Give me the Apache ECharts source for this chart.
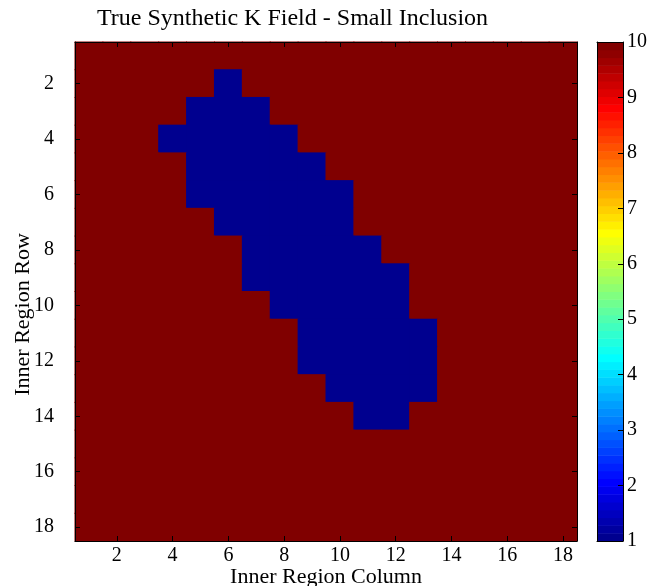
<!DOCTYPE html>
<html>
<head>
<meta charset="utf-8">
<script src="https://cdn.jsdelivr.net/npm/echarts@6/dist/echarts.min.js"></script>
<style>
  html, body { margin: 0; padding: 0; background: #fff; }
  #chart { width: 660px; height: 586px; }
</style>
</head>
<body>
<div id="chart"></div>
<script>
// Grid indices (rows top to bottom, columns left to right)
const rowLabels = ['1','2','3','4','5','6','7','8','9','10','11','12','13','14','15','16','17','18'];
const colLabels = ['1','2','3','4','5','6','7','8','9','10','11','12','13','14','15','16','17','18'];

// Synthetic K field: background 10, low-permeability inclusion 1
const kField = [
  [10,10,10,10,10,10,10,10,10,10,10,10,10,10,10,10,10,10],
  [10,10,10,10,10, 1,10,10,10,10,10,10,10,10,10,10,10,10],
  [10,10,10,10, 1, 1, 1,10,10,10,10,10,10,10,10,10,10,10],
  [10,10,10, 1, 1, 1, 1, 1,10,10,10,10,10,10,10,10,10,10],
  [10,10,10,10, 1, 1, 1, 1, 1,10,10,10,10,10,10,10,10,10],
  [10,10,10,10, 1, 1, 1, 1, 1, 1,10,10,10,10,10,10,10,10],
  [10,10,10,10,10, 1, 1, 1, 1, 1,10,10,10,10,10,10,10,10],
  [10,10,10,10,10,10, 1, 1, 1, 1, 1,10,10,10,10,10,10,10],
  [10,10,10,10,10,10, 1, 1, 1, 1, 1, 1,10,10,10,10,10,10],
  [10,10,10,10,10,10,10, 1, 1, 1, 1, 1,10,10,10,10,10,10],
  [10,10,10,10,10,10,10,10, 1, 1, 1, 1, 1,10,10,10,10,10],
  [10,10,10,10,10,10,10,10, 1, 1, 1, 1, 1,10,10,10,10,10],
  [10,10,10,10,10,10,10,10,10, 1, 1, 1, 1,10,10,10,10,10],
  [10,10,10,10,10,10,10,10,10,10, 1, 1,10,10,10,10,10,10],
  [10,10,10,10,10,10,10,10,10,10,10,10,10,10,10,10,10,10],
  [10,10,10,10,10,10,10,10,10,10,10,10,10,10,10,10,10,10],
  [10,10,10,10,10,10,10,10,10,10,10,10,10,10,10,10,10,10],
  [10,10,10,10,10,10,10,10,10,10,10,10,10,10,10,10,10,10]
];

// Colour scale limits
const kMin = 1;
const kMax = 10;

// 64-step jet colormap
function jetColor(t) {
  const c = v => Math.round(Math.max(0, Math.min(1, v)) * 255);
  return 'rgb(' + c(1.5 - Math.abs(4 * t - 3)) + ',' + c(1.5 - Math.abs(4 * t - 2)) + ',' + c(1.5 - Math.abs(4 * t - 1)) + ')';
}
const nColors = 64;
const jet = [];
for (let i = 1; i <= nColors; i++) jet.push(jetColor(i / nColors));

// Field cells [col, row, value]
const cells = [];
kField.forEach((row, r) => row.forEach((v, c) => cells.push([c, r, v])));

// Colorbar segments [colorIndex, low, high]
const barSegments = [];
for (let i = 0; i < nColors; i++) {
  barSegments.push([i, kMin + (kMax - kMin) * i / nColors, kMin + (kMax - kMin) * (i + 1) / nColors]);
}

const serif = 'Liberation Serif';
const evenOnly = idx => idx % 2 === 1;
const frameLine = { show: true, onZero: false, lineStyle: { color: '#000', width: 1 } };
const insideTick = { show: true, inside: true, length: 5, alignWithLabel: true, interval: evenOnly, lineStyle: { color: '#000' } };
const tickFont = { color: '#000', fontFamily: serif, fontSize: 20 };

const chart = echarts.init(document.getElementById('chart'), null, { renderer: 'canvas' });
chart.setOption({
  animation: false,
  backgroundColor: '#fff',
  title: {
    text: 'True Synthetic K Field - Small Inclusion',
    left: 92, top: 2,
    textStyle: { fontFamily: serif, fontSize: 24, fontWeight: 'normal', color: '#000' }
  },
  grid: [
    { left: 75, top: 42, width: 502, height: 499, containLabel: false, outerBoundsMode: 'none' },
    { left: 597, top: 42, width: 26, height: 499, containLabel: false, outerBoundsMode: 'none' }
  ],
  xAxis: [
    {
      gridIndex: 0, type: 'category', data: colLabels, position: 'bottom', z: 10,
      axisLine: frameLine, axisTick: insideTick,
      axisLabel: Object.assign({ interval: evenOnly, margin: 5 }, tickFont),
      splitLine: { show: false },
      name: 'Inner Region Column', nameLocation: 'middle', nameGap: 25, nameMoveOverlap: false,
      nameTextStyle: { fontFamily: serif, fontSize: 22, color: '#000' }
    },
    {
      gridIndex: 0, type: 'category', data: colLabels, position: 'top', z: 10,
      axisLine: frameLine, axisTick: insideTick, axisLabel: { show: false }, splitLine: { show: false }
    },
    {
      gridIndex: 1, type: 'value', min: 0, max: 1, position: 'bottom', z: 10,
      axisLine: frameLine, axisTick: { show: false }, axisLabel: { show: false }, splitLine: { show: false }
    },
    {
      gridIndex: 1, type: 'value', min: 0, max: 1, position: 'top', z: 10,
      axisLine: frameLine, axisTick: { show: false }, axisLabel: { show: false }, splitLine: { show: false }
    }
  ],
  yAxis: [
    {
      gridIndex: 0, type: 'category', data: rowLabels, inverse: true, position: 'left', z: 10,
      axisLine: frameLine, axisTick: insideTick,
      axisLabel: Object.assign({ interval: evenOnly, margin: 21 }, tickFont),
      splitLine: { show: false },
      name: 'Inner Region Row', nameLocation: 'middle', nameGap: 41, nameRotate: 90, nameMoveOverlap: false,
      nameTextStyle: { fontFamily: serif, fontSize: 22, color: '#000', padding: [0, 46, 0, 0] }
    },
    {
      gridIndex: 0, type: 'category', data: rowLabels, inverse: true, position: 'right', z: 10,
      axisLine: frameLine, axisTick: insideTick, axisLabel: { show: false }, splitLine: { show: false }
    },
    {
      gridIndex: 1, type: 'value', min: kMin, max: kMax, interval: 1, position: 'right', z: 10,
      axisLine: frameLine,
      axisTick: { show: true, inside: true, length: 5, lineStyle: { color: '#000' } },
      axisLabel: Object.assign({ margin: 4 }, tickFont),
      splitLine: { show: false }
    },
    {
      gridIndex: 1, type: 'value', min: kMin, max: kMax, interval: 1, position: 'left', z: 10,
      axisLine: frameLine, axisTick: { show: false }, axisLabel: { show: false }, splitLine: { show: false }
    }
  ],
  visualMap: {
    show: false, type: 'continuous', min: kMin, max: kMax, seriesIndex: 0, dimension: 2,
    inRange: { color: jet }
  },
  series: [
    {
      // field cells, slightly overlapped so no seams show between them
      type: 'custom', xAxisIndex: 0, yAxisIndex: 0, data: cells,
      encode: { x: 0, y: 1 },
      renderItem: (params, api) => {
        const center = api.coord([api.value(0), api.value(1)]);
        const size = api.size([1, 1]);
        return {
          type: 'rect',
          shape: { x: center[0] - size[0] / 2 - 0.5, y: center[1] - size[1] / 2 - 0.5, width: size[0] + 1, height: size[1] + 1 },
          style: { fill: api.visual('color') }
        };
      }
    },
    {
      type: 'custom', xAxisIndex: 2, yAxisIndex: 2, data: barSegments,
      renderItem: (params, api) => {
        const p0 = api.coord([0, api.value(1)]);
        const p1 = api.coord([1, api.value(2)]);
        return {
          type: 'rect',
          shape: { x: p0[0], y: p1[1], width: p1[0] - p0[0], height: p0[1] - p1[1] + 0.5 },
          style: { fill: jet[api.value(0)] }
        };
      }
    }
  ]
});
</script>
</body>
</html>
